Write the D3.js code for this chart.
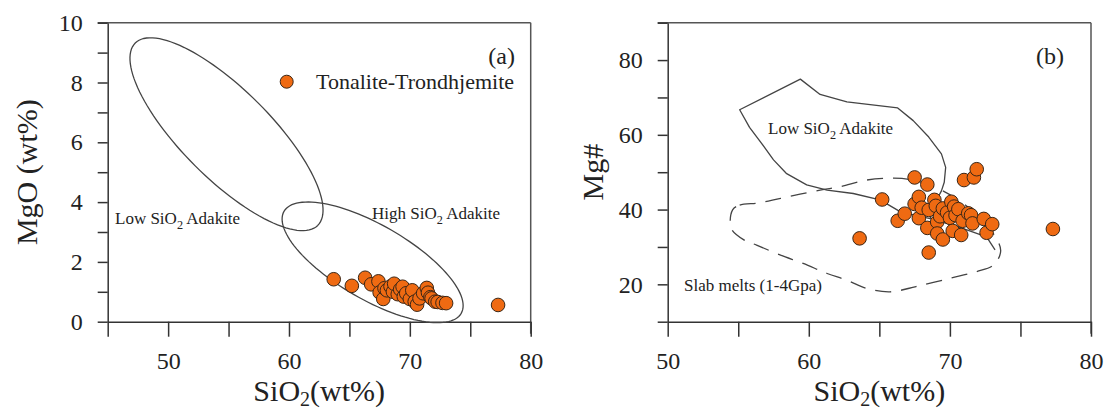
<!DOCTYPE html>
<html>
<head>
<meta charset="utf-8">
<script src="https://cdn.jsdelivr.net/npm/d3@7"></script>
<style>
  html, body { margin: 0; padding: 0; background: #fff; }
  svg { display: block; }
  text { font-family: "Liberation Serif", "Times New Roman", serif; fill: #222; }
</style>
</head>
<body>
<svg id="chart" width="1109" height="412"></svg>
<script>
// ---------------- DATA ----------------
// Panel (a): SiO2 vs MgO
const sio2A = [63.7, 65.2, 66.3, 66.8, 67.4, 67.5, 67.8, 67.9, 68.1, 68.4, 68.6, 68.7, 69.0, 69.2, 69.4, 69.5, 69.7, 70.0, 70.2, 70.4, 70.6, 70.8, 71.1, 71.4, 71.5, 71.7, 71.8, 72.1, 72.3, 72.7, 73.0, 77.3];
const mgoA  = [1.42, 1.20, 1.47, 1.25, 1.35, 0.98, 0.76, 1.12, 1.05, 1.18, 1.00, 1.27, 0.92, 1.08, 1.17, 0.84, 0.95, 0.76, 1.05, 0.67, 0.57, 0.78, 0.95, 1.13, 0.97, 0.82, 0.78, 0.67, 0.66, 0.63, 0.62, 0.56];

// Panel (b): SiO2 vs Mg#
const sio2B = [63.6, 65.2, 66.3, 66.8, 67.5, 67.5, 67.8, 67.8, 68.0, 68.4, 68.4, 68.5, 68.5, 68.9, 69.0, 69.1, 69.1, 69.3, 69.5, 69.5, 69.8, 70.0, 70.1, 70.2, 70.3, 70.4, 70.6, 70.8, 70.9, 71.0, 71.3, 71.5, 71.6, 71.7, 71.9, 72.4, 72.6, 73.0, 77.3];
const mgB   = [32.3, 42.7, 37.0, 38.9, 48.6, 41.5, 43.4, 37.7, 40.5, 46.7, 35.1, 39.9, 28.5, 42.6, 41.0, 36.7, 33.6, 38.2, 40.3, 32.0, 39.2, 37.8, 42.1, 34.3, 40.8, 38.5, 40.1, 33.2, 37.0, 47.9, 39.0, 38.5, 36.3, 48.6, 50.8, 37.5, 33.8, 36.1, 34.8];

// Axis ticks & labels
const xTicks   = [45, 50, 55, 60, 65, 70, 75, 80];
const xTicksB  = [50, 55, 60, 65, 70, 75, 80];
const xLabels  = [50, 60, 70, 80];
const yTicksA  = [0, 1, 2, 3, 4, 5, 6, 7, 8, 9, 10];
const yLabelsA = [0, 2, 4, 6, 8, 10];
const yTicksB  = [10, 20, 30, 40, 50, 60, 70, 80, 90];
const yLabelsB = [20, 40, 60, 80];

// Field boundaries (data units)
// Ellipses: centre + two conjugate half-axis vectors
const lowSiO2EllipseA  = { cx: 54.83, cy: 6.27, ax: 7.55, ay: -3.05, bx: 2.61, by: 1.05 };
const highSiO2EllipseA = { cx: 66.92, cy: 1.985, ax: 7.33, ay: -1.706, bx: -1.539, by: -1.080 };
// Panel (b) outlines
const lowSiO2FieldB = [[73.2,29.2],[72.6,32.7],[70.5,35.5],[68.6,37.6],[66.5,39.4],[65.05,42.6],[63.15,44.3],[61.3,45.2],[59.85,46.6],[58.4,49.7],[57.5,53.3],[56.6,58.0],[55.8,62.0],[55.1,66.7],[59.4,74.9],[60.8,70.8],[62.7,68.8],[66.3,67.2],[67.4,63.8],[68.5,59.4],[69.4,54.9],[69.7,51.3],[69.6,47.3],[69.4,45.0],[68.9,41.5],[68.6,37.6]];
const slabMeltsB = [[54.6,39.9],[55.1,41.2],[56.5,41.8],[58.0,43.0],[60.8,45.2],[62.2,46.1],[64.1,47.9],[66.0,48.4],[67.5,47.8],[69.5,45.0],[71.5,40.0],[73.0,34.0],[73.6,29.0],[73.1,25.2],[71.9,23.4],[70.0,21.6],[67.6,19.4],[65.75,18.0],[64.1,18.9],[62.7,21.1],[61.3,22.9],[59.6,25.6],[58.0,27.8],[56.3,30.5],[55.4,31.9],[54.5,35.0]];

// ---------------- DRAW ----------------
const svg = d3.select("#chart");
svg.append("rect").attr("width", 1109).attr("height", 412).attr("fill", "#fff");

const FILL = "#ef6a12", EDGE = "#3a2616", LINE = "#444";

function panel(opts) {
  const g = svg.append("g");
  const x = d3.scaleLinear().domain(opts.xDomain).range([opts.left, opts.right]);
  const y = d3.scaleLinear().domain(opts.yDomain).range([opts.bottom, opts.top]);

  // frame top / right
  g.append("line").attr("x1", opts.left - 10).attr("x2", opts.right)
    .attr("y1", opts.top).attr("y2", opts.top).attr("stroke", "#555").attr("stroke-width", 1.5);
  g.append("line").attr("x1", opts.right).attr("x2", opts.right)
    .attr("y1", opts.top).attr("y2", opts.bottom + 12).attr("stroke", "#555").attr("stroke-width", 1.5);

  const fmtX = d => opts.xLabels.includes(d) ? d : "";
  const fmtY = d => opts.yLabels.includes(d) ? d : "";

  const ax = g.append("g").attr("transform", `translate(0,${opts.bottom})`)
    .call(d3.axisBottom(x).tickValues(opts.xTicks).tickSize(15).tickSizeOuter(0).tickPadding(15).tickFormat(fmtX));
  const ay = g.append("g").attr("transform", `translate(${opts.left},0)`)
    .call(d3.axisLeft(y).tickValues(opts.yTicks).tickSize(10).tickSizeOuter(0).tickPadding(15).tickFormat(fmtY));
  [ax, ay].forEach(a => {
    a.attr("font-family", null);
    a.select(".domain").attr("stroke", "#333").attr("stroke-width", 1.5);
    a.selectAll(".tick line").attr("stroke", "#333").attr("stroke-width", 1.5);
    a.selectAll(".tick text").attr("font-size", 24).attr("fill", "#222");
  });

  // x title
  const xt = g.append("text").attr("x", (opts.left + opts.right) / 2).attr("y", 401)
    .attr("text-anchor", "middle").attr("font-size", 30);
  xt.append("tspan").text("SiO");
  xt.append("tspan").attr("font-size", 20).attr("dy", 5).text("2");
  xt.append("tspan").attr("dy", -5).text("(wt%)");

  // y title
  g.append("text").attr("transform", `translate(${opts.yTitleX},${(opts.top + opts.bottom) / 2}) rotate(-90)`)
    .attr("text-anchor", "middle").attr("font-size", 30).text(opts.yTitle);

  // panel letter
  g.append("text").attr("x", opts.letterX).attr("y", 64).attr("text-anchor", "end")
    .attr("font-size", 24).text(opts.letter);

  return { g, x, y };
}

function subLabel(g, xPos, yPos, pre, sub, post, size) {
  const t = g.append("text").attr("x", xPos).attr("y", yPos).attr("font-size", size);
  t.append("tspan").text(pre);
  t.append("tspan").attr("font-size", size * 0.72).attr("dy", size * 0.28).text(sub);
  t.append("tspan").attr("dy", -size * 0.28).text(post);
  return t;
}

function ellipsePts(e) {
  return d3.range(0, 361, 3).map(deg => {
    const t = deg * Math.PI / 180;
    return [e.cx + e.ax * Math.cos(t) + e.bx * Math.sin(t), e.cy + e.ay * Math.cos(t) + e.by * Math.sin(t)];
  });
}

// ----- Panel (a)
const A = panel({
  xDomain: [45, 80], yDomain: [0, 10],
  left: 107.7, right: 530.7, top: 22.7, bottom: 321.7,
  xTicks: xTicks, xLabels: xLabels, yTicks: yTicksA, yLabels: yLabelsA,
  yTitle: "MgO (wt%)", yTitleX: 37, letter: "(a)", letterX: 515
});
const lineA = d3.line().x(d => A.x(d[0])).y(d => A.y(d[1])).curve(d3.curveLinearClosed);
[lowSiO2EllipseA, highSiO2EllipseA].forEach(e => {
  A.g.append("path").attr("d", lineA(ellipsePts(e))).attr("fill", "none")
    .attr("stroke", LINE).attr("stroke-width", 1.3);
});
subLabel(A.g, 115, 224, "Low SiO", "2", " Adakite", 17);
subLabel(A.g, 372, 219, "High SiO", "2", " Adakite", 17);

A.g.selectAll("circle.pt").data(d3.range(sio2A.length)).join("circle")
  .attr("class", "pt").attr("cx", i => A.x(sio2A[i])).attr("cy", i => A.y(mgoA[i]))
  .attr("r", 6.8).attr("fill", FILL).attr("stroke", EDGE).attr("stroke-width", 1);

// legend
A.g.append("circle").attr("cx", 286.7).attr("cy", 81.7).attr("r", 6.5)
  .attr("fill", FILL).attr("stroke", EDGE).attr("stroke-width", 1);
A.g.append("text").attr("x", 316).attr("y", 89).attr("font-size", 22).text("Tonalite-Trondhjemite");

// ----- Panel (b)
const B = panel({
  xDomain: [50, 80], yDomain: [10, 90],
  left: 667.7, right: 1091, top: 22.7, bottom: 321.7,
  xTicks: xTicksB, xLabels: xLabels, yTicks: yTicksB, yLabels: yLabelsB,
  yTitle: "Mg#", yTitleX: 603, letter: "(b)", letterX: 1064
});
const lineOpen = d3.line().x(d => B.x(d[0])).y(d => B.y(d[1]));
const lineClosed = d3.line().x(d => B.x(d[0])).y(d => B.y(d[1])).curve(d3.curveCatmullRomClosed.alpha(0.5));
B.g.append("path").attr("d", lineClosed(slabMeltsB)).attr("fill", "none")
  .attr("stroke", LINE).attr("stroke-width", 1.3).attr("stroke-dasharray", "16,10");
B.g.append("path").attr("d", lineOpen(lowSiO2FieldB)).attr("fill", "none")
  .attr("stroke", LINE).attr("stroke-width", 1.3).attr("stroke-linejoin", "round");
subLabel(B.g, 768, 134, "Low SiO", "2", " Adakite", 17);
B.g.append("text").attr("x", 684).attr("y", 291).attr("font-size", 17).text("Slab melts (1-4Gpa)");

B.g.selectAll("circle.pt").data(d3.range(sio2B.length)).join("circle")
  .attr("class", "pt").attr("cx", i => B.x(sio2B[i])).attr("cy", i => B.y(mgB[i]))
  .attr("r", 6.8).attr("fill", FILL).attr("stroke", EDGE).attr("stroke-width", 1);
</script>
</body>
</html>
